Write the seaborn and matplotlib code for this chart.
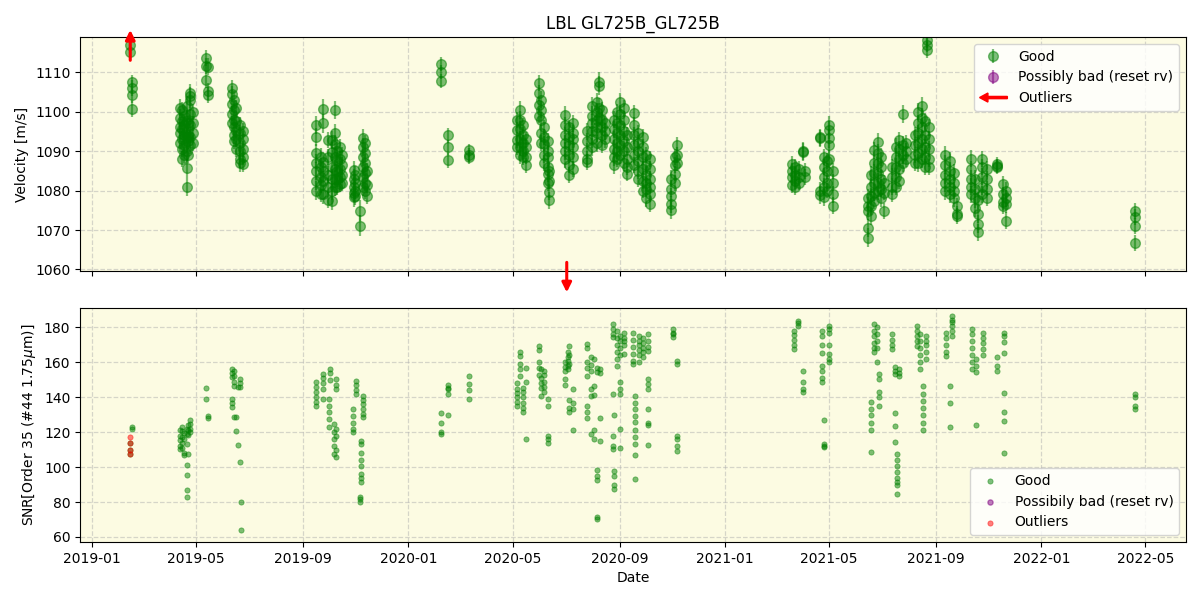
import numpy as np
import pandas as pd
import matplotlib
matplotlib.use("Agg")
import matplotlib.pyplot as plt
import matplotlib.dates as mdates
import matplotlib.patches as mpatches
from matplotlib.legend_handler import HandlerPatch
import seaborn as sns

# ---------------- data ----------------
title = "LBL GL725B_GL725B"

rv_night_dates = [
    "2019-02-14", "2019-02-16",
    "2019-04-13", "2019-04-15", "2019-04-17", "2019-04-20", "2019-04-22", "2019-04-24", "2019-04-27",
    "2019-05-13", "2019-05-15",
    "2019-06-12", "2019-06-14", "2019-06-16", "2019-06-21", "2019-06-24",
    "2019-09-17", "2019-09-22", "2019-09-25", "2019-09-30", "2019-10-05", "2019-10-08", "2019-10-11",
    "2019-10-14", "2019-10-17",
    "2019-10-30", "2019-11-01", "2019-11-06", "2019-11-10", "2019-11-12", "2019-11-14",
    "2020-02-08", "2020-02-16", "2020-03-11",
    "2020-05-06", "2020-05-09", "2020-05-13", "2020-05-16",
    "2020-05-31", "2020-06-02", "2020-06-06", "2020-06-10", "2020-06-12",
    "2020-06-30", "2020-07-05", "2020-07-09",
    "2020-07-25", "2020-07-31", "2020-08-06", "2020-08-08", "2020-08-12", "2020-08-15",
    "2020-08-25", "2020-08-29", "2020-09-02", "2020-09-06", "2020-09-10",
    "2020-09-18", "2020-09-22", "2020-09-28", "2020-10-02", "2020-10-06",
    "2020-10-30", "2020-11-04", "2020-11-06",
    "2021-03-19", "2021-03-23", "2021-03-27", "2021-04-01", "2021-04-03",
    "2021-04-21", "2021-04-25", "2021-04-29", "2021-05-01", "2021-05-05",
    "2021-06-15", "2021-06-18", "2021-06-22", "2021-06-26", "2021-06-30", "2021-07-03",
    "2021-07-13", "2021-07-17", "2021-07-21", "2021-07-25", "2021-07-29",
    "2021-08-08", "2021-08-12", "2021-08-16", "2021-08-20", "2021-08-22", "2021-08-24",
    "2021-09-12", "2021-09-17", "2021-09-22", "2021-09-26",
    "2021-10-12", "2021-10-16", "2021-10-20", "2021-10-25", "2021-10-30",
    "2021-11-11", "2021-11-18", "2021-11-21",
    "2022-04-19",
]

rv_night_values = [
    [1116.9, 1115.0], [1107.4, 1105.9, 1104.1, 1100.6],
    [1101.0, 1098.5, 1096.0, 1094.5, 1092.0], [1100.5, 1097.5, 1095.5, 1093.0, 1090.5, 1088.0],
    [1099.0, 1096.5, 1094.0, 1091.5, 1089.0], [1101.5, 1098.0, 1095.0, 1093.5, 1090.0, 1085.6, 1080.9],
    [1097.0, 1094.0, 1092.5, 1088.9], [1104.7, 1104.0, 1103.0, 1099.5, 1096.5, 1093.5, 1091.5],
    [1100.0, 1097.0, 1094.5, 1092.0],
    [1113.6, 1111.6, 1108.0], [1111.4, 1105.1, 1104.2],
    [1105.9, 1104.5, 1102.0, 1099.5, 1097.0], [1103.0, 1100.5, 1098.0, 1096.0, 1094.0, 1092.5],
    [1101.0, 1097.5, 1095.0, 1093.0, 1090.5], [1096.5, 1094.5, 1092.0, 1090.0, 1088.0, 1087.0],
    [1095.0, 1093.0, 1090.5, 1088.5, 1086.8],
    [1096.6, 1093.6, 1089.4, 1087.0, 1085.0, 1082.5, 1080.0], [1088.5, 1086.0, 1083.5, 1081.5, 1079.2],
    [1100.7, 1097.0, 1087.2, 1085.0, 1082.5, 1079.0], [1092.8, 1088.5, 1084.0, 1081.0, 1077.6],
    [1092.8, 1089.8, 1086.0, 1083.0, 1080.0, 1077.4], [1100.4, 1094.5, 1091.9, 1088.5, 1085.5, 1083.0, 1080.9],
    [1090.0, 1087.5, 1085.0, 1083.0, 1081.0], [1091.0, 1088.0, 1085.5, 1083.5, 1081.7],
    [1089.0, 1086.5, 1084.0, 1082.0],
    [1085.1, 1083.0, 1081.0, 1079.5, 1078.3], [1084.0, 1082.0, 1080.0, 1078.5], [1074.9, 1071.1],
    [1093.2, 1091.0, 1088.5, 1086.0, 1083.5, 1081.0], [1092.0, 1089.5, 1087.0, 1084.5, 1082.0, 1080.0],
    [1078.7, 1081.5, 1085.0],
    [1112.0, 1110.0, 1107.8], [1094.0, 1091.0, 1087.7], [1090.2, 1089.0, 1088.5],
    [1097.9, 1095.3, 1092.8, 1091.1], [1100.4, 1098.0, 1095.5, 1093.0, 1091.0, 1089.0],
    [1096.5, 1094.0, 1092.0, 1090.0, 1088.5], [1093.0, 1091.0, 1088.5, 1086.4],
    [1107.2, 1104.7, 1101.7, 1099.0], [1103.0, 1100.5, 1097.9, 1094.5, 1092.0],
    [1096.0, 1093.5, 1091.9, 1089.0, 1087.0], [1092.5, 1090.0, 1088.5, 1086.0, 1084.3, 1082.0],
    [1085.0, 1082.5, 1079.6, 1077.5],
    [1099.1, 1096.5, 1094.0, 1092.0, 1090.0, 1088.0], [1096.0, 1093.5, 1091.5, 1089.0, 1086.5, 1083.9],
    [1097.0, 1094.5, 1093.0, 1091.0, 1088.5, 1085.5],
    [1095.0, 1092.5, 1090.0, 1088.0, 1087.2], [1101.5, 1099.0, 1097.0, 1095.0, 1093.0, 1091.0],
    [1102.5, 1100.0, 1098.0, 1096.0, 1094.5, 1092.0], [1107.6, 1106.5, 1101.0, 1098.5],
    [1100.5, 1098.0, 1096.0, 1094.0, 1091.5], [1097.0, 1095.0, 1093.0],
    [1098.0, 1095.5, 1093.0, 1090.5, 1088.5, 1086.5], [1100.0, 1097.0, 1094.5, 1092.0, 1090.0, 1088.0],
    [1102.5, 1099.5, 1096.5, 1094.0, 1091.5, 1089.0], [1100.8, 1098.0, 1095.0, 1092.5, 1090.0, 1087.0],
    [1094.0, 1091.0, 1088.0, 1086.0, 1084.3],
    [1099.6, 1096.6, 1094.0, 1091.5, 1089.0, 1086.5], [1094.5, 1092.0, 1090.0, 1087.5, 1085.0, 1083.0],
    [1093.5, 1091.0, 1088.5, 1085.5, 1082.5, 1080.0], [1089.0, 1086.5, 1084.0, 1082.0, 1080.5, 1078.0],
    [1088.0, 1085.5, 1083.0, 1081.0, 1079.0, 1076.6],
    [1083.0, 1080.5, 1078.5, 1076.5, 1075.0], [1088.5, 1086.5, 1084.3, 1082.0], [1091.5, 1089.0, 1087.0],
    [1086.8, 1085.0, 1083.5, 1081.5], [1086.0, 1084.0, 1082.5, 1080.9], [1085.5, 1083.5, 1082.0],
    [1089.8, 1090.0], [1085.0, 1083.5],
    [1093.2, 1093.5, 1080.0, 1078.8], [1088.5, 1086.0, 1083.5, 1081.0, 1078.3],
    [1087.5, 1085.0, 1082.0, 1080.0], [1096.6, 1095.3, 1093.2, 1091.5, 1088.0],
    [1085.0, 1082.0, 1079.0, 1076.2],
    [1078.0, 1076.0, 1074.9, 1070.6, 1068.1], [1084.0, 1081.0, 1078.5, 1076.0, 1073.5],
    [1090.2, 1087.0, 1084.5, 1082.0, 1079.5, 1077.4], [1092.3, 1089.5, 1087.0, 1084.5, 1082.0, 1080.0],
    [1088.5, 1086.0, 1083.0, 1080.5, 1078.0], [1082.0, 1079.5, 1074.9],
    [1086.0, 1083.5, 1081.0, 1079.2], [1091.0, 1088.5, 1086.0, 1083.5, 1081.0],
    [1092.8, 1090.5, 1088.0, 1085.5, 1082.5], [1099.4, 1091.5, 1089.0, 1087.0], [1092.0, 1090.0, 1088.0],
    [1094.0, 1091.5, 1089.0, 1087.0], [1100.0, 1097.0, 1094.5, 1092.0, 1089.5, 1087.0],
    [1101.3, 1098.5, 1096.0, 1093.0, 1090.5, 1088.0], [1097.5, 1094.0, 1091.0, 1088.5, 1086.0],
    [1118.2, 1117.0, 1115.7], [1096.0, 1093.0, 1090.5, 1088.0, 1086.0],
    [1088.9, 1086.5, 1084.0, 1082.0, 1080.0], [1087.5, 1085.0, 1083.0, 1081.0, 1079.0],
    [1084.5, 1082.0, 1080.0, 1078.0], [1076.0, 1074.1, 1073.5],
    [1088.1, 1085.5, 1083.0, 1081.0, 1079.0], [1083.0, 1080.5, 1078.0, 1075.5],
    [1077.5, 1074.0, 1071.5, 1069.4], [1088.0, 1086.0, 1083.5, 1081.0, 1079.0],
    [1085.5, 1083.0, 1080.5, 1078.0],
    [1086.8, 1086.2, 1086.0], [1081.7, 1079.0, 1077.0, 1076.0], [1080.0, 1078.0, 1076.5, 1072.4],
    [1074.9, 1073.2, 1071.1, 1066.7],
]

rv_night_err = [
    2.0, 2.0,
    2.2, 2.0, 2.1, 2.4, 2.0, 2.2, 2.0,
    2.0, 2.1,
    2.0, 2.1, 2.0, 2.2, 2.0,
    2.3, 2.2, 2.5, 2.1, 2.4, 2.3, 2.2, 2.0, 2.1,
    2.4, 2.2, 2.6, 2.3, 2.2, 2.0,
    1.8, 1.9, 1.7,
    2.1, 2.2, 2.0, 1.9,
    2.0, 2.1, 2.0, 2.2, 2.1,
    2.2, 2.0, 2.1,
    2.1, 2.3, 2.2, 2.4, 2.0, 2.1,
    2.2, 2.0, 2.3, 2.1, 2.0,
    2.1, 2.2, 2.0, 2.1, 2.0,
    2.1, 2.0, 2.0,
    2.0, 2.1, 1.9, 2.2, 2.0,
    2.2, 2.1, 2.0, 2.3, 2.1,
    2.3, 2.2, 2.1, 2.4, 2.2, 2.0,
    2.1, 2.2, 2.0, 2.3, 2.1,
    2.0, 2.2, 2.3, 2.1, 2.0, 2.1,
    2.4, 2.2, 2.1, 2.0,
    2.1, 2.3, 2.2, 2.1, 2.0,
    1.8, 2.0, 2.1,
    2.0,
]

snr_night_dates = [
    "2019-02-14", "2019-02-16",
    "2019-04-13", "2019-04-15", "2019-04-17", "2019-04-20", "2019-04-22", "2019-04-24",
    "2019-05-13", "2019-05-15",
    "2019-06-12", "2019-06-14", "2019-06-16", "2019-06-18", "2019-06-21", "2019-06-22",
    "2019-09-17", "2019-09-25", "2019-10-01", "2019-10-03", "2019-10-07", "2019-10-10",
    "2019-10-29", "2019-11-02", "2019-11-06", "2019-11-08", "2019-11-10",
    "2020-02-08", "2020-02-16", "2020-03-11",
    "2020-05-06", "2020-05-09", "2020-05-13", "2020-05-16",
    "2020-05-31", "2020-06-02", "2020-06-06", "2020-06-10",
    "2020-06-30", "2020-07-03", "2020-07-05", "2020-07-09",
    "2020-07-25", "2020-07-30", "2020-08-03", "2020-08-06", "2020-08-09",
    "2020-08-24", "2020-08-25", "2020-08-29", "2020-09-02", "2020-09-06",
    "2020-09-16", "2020-09-19", "2020-09-23", "2020-09-28", "2020-10-04",
    "2020-11-02", "2020-11-06",
    "2021-03-21", "2021-03-26", "2021-04-01",
    "2021-04-23", "2021-04-25", "2021-05-01",
    "2021-06-18", "2021-06-22", "2021-06-25", "2021-06-28",
    "2021-07-13", "2021-07-16", "2021-07-18", "2021-07-21",
    "2021-08-10", "2021-08-14", "2021-08-17", "2021-08-21",
    "2021-09-13", "2021-09-17", "2021-09-20",
    "2021-10-13", "2021-10-17", "2021-10-26",
    "2021-11-11", "2021-11-19",
    "2022-04-19",
]

snr_night_values = [
    [113.7, 109.9, 107.6], [122.9, 121.7],
    [121.0, 118.0, 115.5, 112.0, 110.5], [123.0, 120.5, 117.0, 114.0, 111.0],
    [119.5, 116.0, 108.0, 106.7], [122.0, 119.0, 113.0, 101.0, 95.6, 87.0, 82.9],
    [124.0, 121.5, 118.5, 107.5], [126.7, 124.5, 122.0, 120.0],
    [145.1, 139.0], [129.5, 128.2],
    [156.2, 154.0, 151.5, 139.0, 136.5, 134.3], [155.0, 152.0, 149.0, 146.5, 128.6],
    [120.4, 128.8], [112.8, 145.7], [150.5, 148.0, 145.7, 102.9], [80.0, 64.2],
    [148.6, 146.0, 143.0, 140.0, 137.5, 135.2], [153.3, 151.0, 148.0, 145.0, 139.0],
    [139.0, 135.0, 131.5, 127.6, 122.9], [156.2, 154.0, 150.0],
    [124.8, 120.0, 116.0, 112.0, 107.5], [150.5, 147.0, 144.5, 122.0, 118.0, 110.0, 105.7],
    [133.3, 129.0, 125.5, 122.0, 120.0], [149.5, 147.0, 144.0, 141.9], [82.9, 81.5, 80.0],
    [115.2, 113.0, 108.0, 104.0, 100.5, 96.0, 94.0, 91.4], [141.0, 138.5, 136.0, 133.5, 130.5, 128.6],
    [130.9, 125.1, 120.0, 119.0], [147.0, 145.5, 144.5, 141.9, 129.7], [152.0, 147.4, 144.0, 139.0],
    [148.0, 145.0, 142.5, 140.0, 137.5, 135.0], [165.7, 163.5, 159.0, 156.0, 152.0],
    [145.5, 143.0, 140.0, 137.0, 134.0, 131.4], [157.0, 149.0, 116.2],
    [169.5, 167.0, 160.0, 157.0, 153.0], [156.0, 151.0, 148.0, 145.5, 141.0],
    [155.0, 152.5, 149.0, 146.0, 143.0], [118.1, 116.0, 113.9, 139.0, 135.2],
    [160.0, 157.5, 155.0, 150.5, 147.0], [166.0, 163.0, 161.0, 158.0, 156.0],
    [169.5, 164.0, 159.0, 138.5, 134.0, 131.4], [145.0, 121.3, 137.0, 133.0],
    [170.5, 168.0, 160.0, 157.0, 152.0, 135.2, 131.5, 128.0], [163.0, 158.5, 155.0, 145.0, 141.0, 119.0],
    [162.0, 146.5, 141.5, 121.0, 116.2], [157.0, 154.5, 98.1, 95.0, 92.4, 71.4, 70.5],
    [156.0, 154.0, 128.0, 115.0],
    [181.9, 179.0, 176.0, 174.5, 142.0, 118.1, 112.0, 110.5], [97.7, 95.0, 90.0, 87.6, 130.0],
    [178.0, 174.0, 170.0, 166.0, 161.9, 158.0],
    [175.0, 172.0, 168.0, 164.0, 149.0, 145.0, 142.0, 121.9, 111.0], [177.0, 174.0, 172.5, 170.0, 165.0],
    [177.1, 173.0, 169.0, 165.0, 161.0, 159.0],
    [141.0, 137.0, 133.0, 129.5, 126.0, 121.0, 117.0, 113.0, 106.7, 93.3],
    [175.0, 172.0, 170.0, 167.0, 164.0, 160.0], [174.0, 171.0, 168.5, 166.0, 163.0],
    [176.0, 172.5, 169.0, 166.5, 150.5, 147.5, 144.8, 133.3, 125.5, 124.0, 112.4],
    [179.0, 177.0, 176.0, 174.3], [161.0, 159.0, 118.1, 116.0, 112.0, 109.1],
    [178.1, 175.5, 173.0, 170.0, 167.6], [183.8, 182.5, 181.0], [155.2, 148.6, 144.8, 143.2],
    [178.1, 175.0, 170.0, 165.5, 158.0, 155.0, 151.0, 148.6], [126.7, 113.3, 112.3, 111.4],
    [181.0, 179.0, 177.0, 170.0, 165.0, 162.0, 160.0],
    [137.1, 133.5, 130.0, 125.0, 121.0, 108.6], [181.9, 178.0, 175.0, 171.0, 168.0, 165.7],
    [180.0, 176.0, 172.0, 168.0, 160.0], [153.3, 150.5, 142.9, 140.0, 135.2],
    [176.2, 173.0, 170.0, 167.6], [157.1, 155.0, 153.3, 131.0, 123.8, 114.3],
    [107.6, 104.0, 100.5, 97.0, 94.0, 91.5, 89.5, 84.8], [156.0, 154.0, 152.0],
    [181.0, 178.0, 175.0, 172.0, 169.5], [176.0, 172.0, 168.0, 164.0, 160.0, 156.2],
    [146.7, 142.0, 138.0, 134.0, 130.0, 125.0, 121.0], [175.2, 172.0, 170.0, 166.0, 162.0],
    [177.1, 174.0, 170.0, 166.0, 163.8], [146.7, 136.6, 122.9], [186.7, 184.5, 183.0, 181.0, 178.0, 175.0],
    [179.0, 176.0, 172.0, 168.0, 164.0, 160.0, 156.2], [161.9, 158.0, 154.3, 124.0],
    [177.1, 174.0, 171.0, 167.6, 164.0],
    [162.9, 158.0, 155.2], [177.1, 175.0, 171.4, 165.3, 142.3, 131.4, 126.3, 108.2],
    [141.9, 140.0, 135.2, 133.3],
]

snr_outlier_dates = ["2019-02-14", "2019-02-14", "2019-02-14", "2019-02-14"]
snr_outlier_values = [117.1, 113.7, 109.9, 107.6]

# velocity outliers that fall outside the plotted range (drawn as arrows)
rv_outlier_up_dates = ["2019-02-14"]
rv_outlier_down_dates = ["2020-07-02"]


def flatten(dates, values):
    d, v = [], []
    for dt, vs in zip(dates, values):
        d += [dt] * len(vs)
        v += list(vs)
    return pd.to_datetime(d), np.array(v, dtype=float)


rv_t, rv_v = flatten(rv_night_dates, rv_night_values)
_, rv_e = flatten(rv_night_dates, [[e] * len(vs) for e, vs in zip(rv_night_err, rv_night_values)])
rv_df = pd.DataFrame({"date": rv_t, "rv": rv_v, "err": rv_e})

snr_t, snr_v = flatten(snr_night_dates, snr_night_values)
snr_df = pd.DataFrame({"date": snr_t, "snr": snr_v})
out_df = pd.DataFrame({"date": pd.to_datetime(snr_outlier_dates), "snr": snr_outlier_values})

# ---------------- plotting ----------------
bg = "#fcfbe2"
fig, (ax1, ax2) = plt.subplots(2, 1, sharex=True, figsize=(12, 6), dpi=100)
fig.subplots_adjust(left=0.0667, right=0.9883, top=0.9383, bottom=0.0967, hspace=0.154)

for ax in (ax1, ax2):
    ax.set_facecolor(bg)
    ax.grid(True, linestyle="--", color="#b0b0b0", alpha=0.5, linewidth=0.9)
    ax.set_axisbelow(True)

# top panel: velocities
ax1.errorbar(rv_df["date"], rv_df["rv"], yerr=rv_df["err"], fmt="o", color="green",
             alpha=0.5, ms=7, elinewidth=1.6, label="Good")
ax1.errorbar(rv_df["date"][:0], rv_df["rv"][:0], yerr=rv_df["err"][:0], fmt="o", color="purple",
             alpha=0.5, ms=7, elinewidth=1.6, label="Possibly bad (reset rv)")

ylo, yhi = 1059.5, 1118.9
ax1.set_ylim(ylo, yhi)
for d in pd.to_datetime(rv_outlier_up_dates):
    ax1.annotate("", xy=(d, yhi + 1.8), xytext=(d, yhi - 5.9),
                 arrowprops=dict(arrowstyle="-|>", color="red", lw=2.2, mutation_scale=14,
                                 shrinkA=0, shrinkB=0),
                 annotation_clip=False)
for d in pd.to_datetime(rv_outlier_down_dates):
    ax1.annotate("", xy=(d, ylo - 5.3), xytext=(d, ylo + 2.3),
                 arrowprops=dict(arrowstyle="-|>", color="red", lw=2.2, mutation_scale=14,
                                 shrinkA=0, shrinkB=0),
                 annotation_clip=False)


def make_arrow(legend, orig_handle, xdescent, ydescent, width, height, fontsize):
    return mpatches.FancyArrow(width - xdescent, 0.5 * height - ydescent, -width, 0,
                               width=1.6, head_width=6.5, head_length=6,
                               length_includes_head=True, color="red")


arrow_proxy = mpatches.FancyArrow(0, 0, 1, 0, color="red")
h, l = ax1.get_legend_handles_labels()
ax1.legend(h + [arrow_proxy], l + ["Outliers"], loc="upper right",
           handler_map={mpatches.FancyArrow: HandlerPatch(patch_func=make_arrow)})
ax1.set_ylabel("Velocity [m/s]")
ax1.set_title(title, fontsize=12)

# bottom panel: SNR
sns.scatterplot(data=snr_df, x="date", y="snr", ax=ax2, color="green", alpha=0.5, s=14,
                edgecolor="green", linewidth=0.6, label="Good")
ax2.scatter(snr_df["date"][:0], snr_df["snr"][:0], color="purple", alpha=0.5, s=14,
            label="Possibily bad (reset rv)")
sns.scatterplot(data=out_df, x="date", y="snr", ax=ax2, color="red", alpha=0.5, s=14,
                edgecolor="red", linewidth=0.6, label="Outliers")
ax2.set_ylim(57.1, 191.4)
ax2.set_yticks([60, 80, 100, 120, 140, 160, 180])
ax2.legend(loc="lower right")
ax2.set_ylabel(r"SNR[Order 35 (#44 1.75$\mu$m)]")
ax2.set_xlabel("Date")

ax2.set_xlim(pd.Timestamp("2018-12-18"), pd.Timestamp("2022-06-17"))
ax2.xaxis.set_major_locator(mdates.MonthLocator(bymonth=[1, 5, 9]))
ax2.xaxis.set_major_formatter(mdates.DateFormatter("%Y-%m"))

fig.savefig("out.png", dpi=100)
